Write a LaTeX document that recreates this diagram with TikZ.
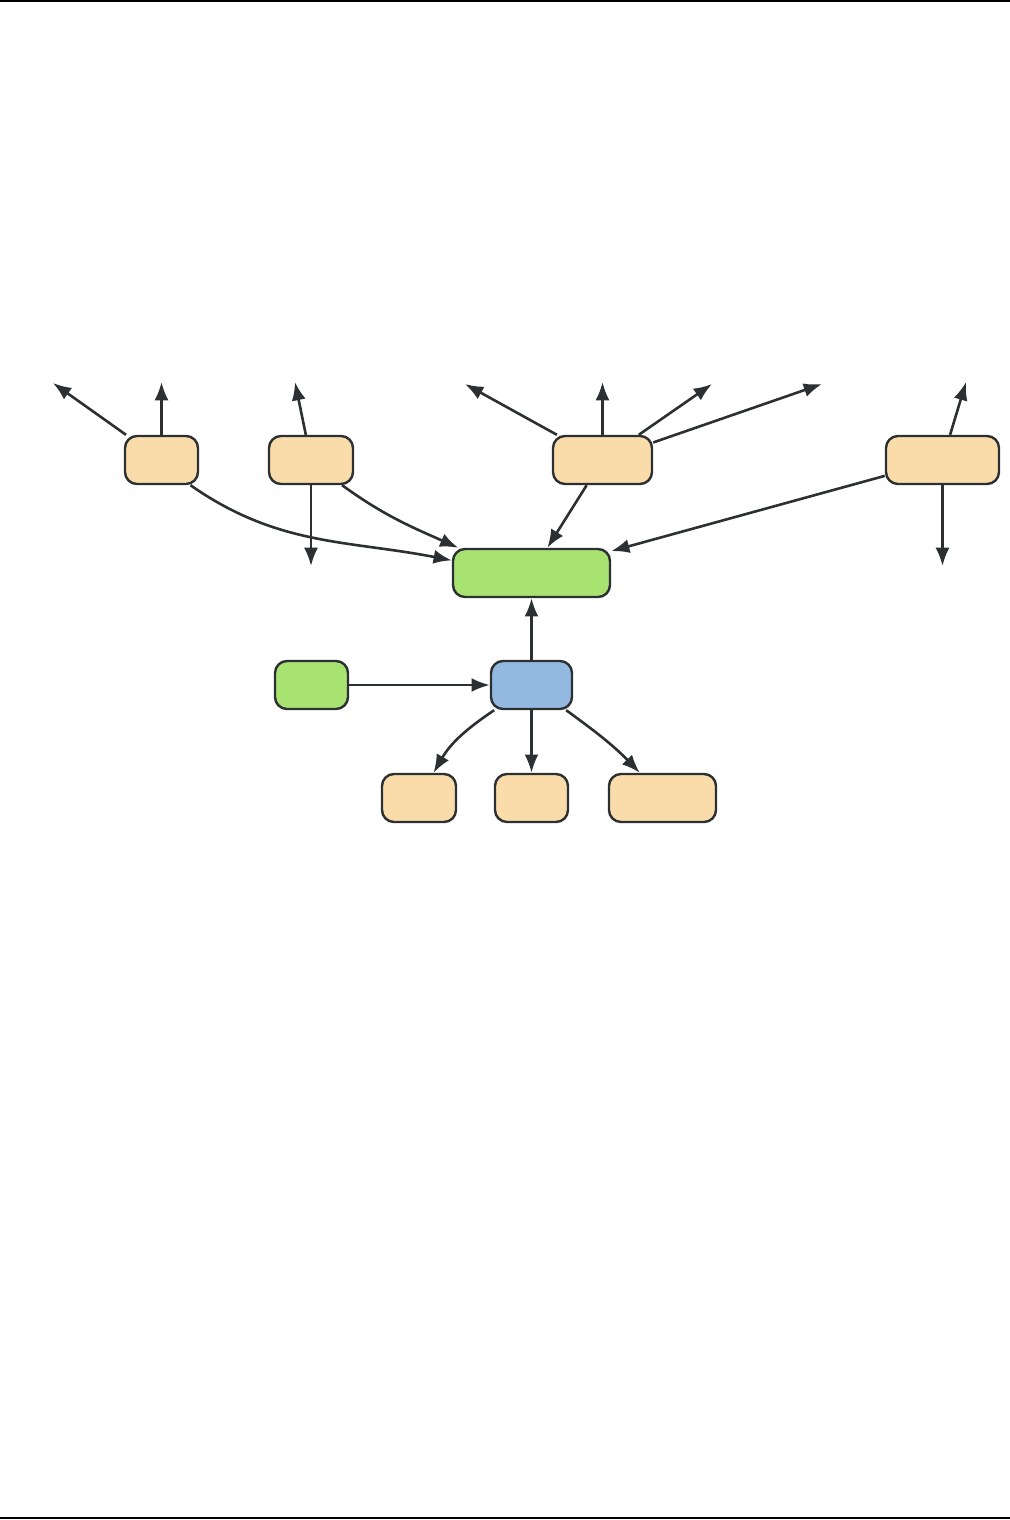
\documentclass[tikz,border=0pt]{standalone}
\usetikzlibrary{arrows.meta}

\definecolor{boxline}{RGB}{45,48,51}
\definecolor{peach}{RGB}{250,220,170}
\definecolor{leaf}{RGB}{168,226,112}
\definecolor{sky}{RGB}{147,185,225}

\def \u {0.025cm} % one pixel of the sheet

\tikzset{
  box/.style={draw=boxline, line width=2.4*\u, rounded corners=12*\u,
    minimum height=48*\u, inner sep=0pt},
  tip/.tip={Latex[length=13pt, width=10pt]},
  link/.style={-tip, draw=boxline, line width=2.6*\u}
}

\begin{document}
\begin{tikzpicture}[x=\u, y=-\u]

\useasboundingbox (0,0) rectangle (1010,1520);

% page rules
\draw[line width=2*\u] (0,1) -- (1010,1);
\draw[line width=2*\u] (0,1518) -- (1010,1518);

% upper row
\node[box, fill=peach, minimum width=73*\u] (a1) at (161.5,460) {};
\node[box, fill=peach, minimum width=84*\u] (a2) at (311,460) {};
\node[box, fill=peach, minimum width=99*\u] (a3) at (602.5,460) {};
\node[box, fill=peach, minimum width=113*\u] (a4) at (942.5,460) {};

% middle
\node[box, fill=leaf, minimum width=157*\u] (g) at (531.5,573) {};
\node[box, fill=leaf, minimum width=73*\u] (g2) at (311.5,685) {};
\node[box, fill=sky, minimum width=81*\u] (b) at (531.5,685) {};

% lower row
\node[box, fill=peach, minimum width=74*\u] (c1) at (419,798) {};
\node[box, fill=peach, minimum width=73*\u] (c2) at (531.5,798) {};
\node[box, fill=peach, minimum width=107*\u] (c3) at (662.5,798) {};

% free ends
\coordinate (e11) at (53,383);
\coordinate (e12) at (161.5,382);
\coordinate (e21) at (295,382);
\coordinate (e22) at (311,566);
\coordinate (e31) at (465,384);
\coordinate (e32) at (602.5,382);
\coordinate (e33) at (712,384);
\coordinate (e34) at (822,384);
\coordinate (e41) at (966,382);
\coordinate (e42) at (942.5,566);

\foreach \s/\t in {a1/e11, a1/e12, a2/e21, a2/e22, a3/e31, a3/e32,
                   a3/e33, a3/e34, a4/e41, a4/e42}
{
  \draw[link] (\s) -- (\t);
}

% into the main box
\draw[link] (a1.-41) to[out=-35, in=169] (g.171);
\draw[link] (a2.-39) to[out=-36, in=156] (g.161);
\draw[link] (a3) -- (g);
\draw[link] (a4) -- (g);
\draw[link] (b) -- (g);
\draw[link] (g2) -- (b);

% below the blue box
\draw[link] (b.-146) to[out=-146, in=60] (c1.60);
\draw[link] (b) -- (c2);
\draw[link] (b.-36) to[out=-36, in=134] (c3.132);

\end{tikzpicture}
\end{document}
